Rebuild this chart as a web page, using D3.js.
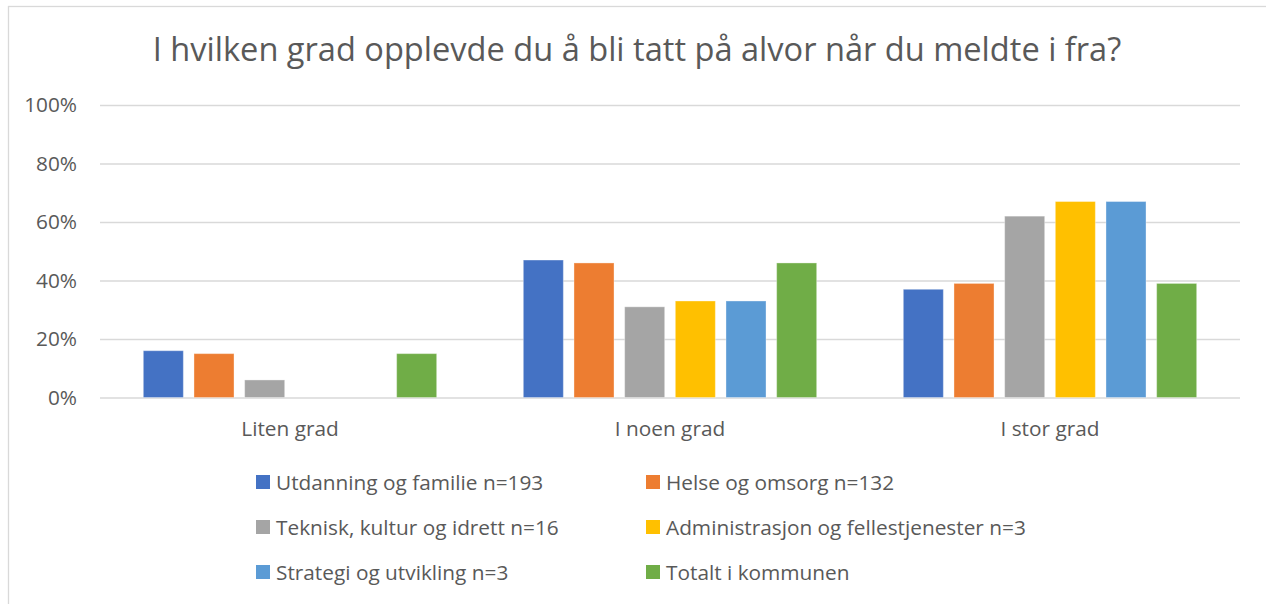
<!DOCTYPE html>
<html>
<head>
<meta charset="utf-8">
<script src="https://cdn.jsdelivr.net/npm/d3@7"></script>
<style>
  body { margin: 0; background: #fff; }
  svg text { font-family: "Open Sans", "Noto Sans", sans-serif; fill: #595959; }
</style>
</head>
<body>
<div id="chart"></div>
<script>
// DATA ------------------------------------------------------------------
const title = "I hvilken grad opplevde du å bli tatt på alvor når du meldte i fra?";
const categories = ["Liten grad", "I noen grad", "I stor grad"];
const seriesNames = [
    "Utdanning og familie n=193",
    "Helse og omsorg n=132",
    "Teknisk, kultur og idrett n=16",
    "Administrasjon og fellestjenester n=3",
    "Strategi og utvikling n=3",
    "Totalt i kommunen",
];
const utdanning = [0.16, 0.47, 0.37];
const helse = [0.15, 0.46, 0.39];
const teknisk = [0.06, 0.31, 0.62];
const administrasjon = [0, 0.33, 0.67];
const strategi = [0, 0.33, 0.67];
const totalt = [0.15, 0.46, 0.39];
const yTicks = [0, 0.2, 0.4, 0.6, 0.8, 1];
const colors = ["#4472c4", "#ed7d31", "#a5a5a5", "#ffc000", "#5b9bd5", "#70ad47"];

const seriesValues = [utdanning, helse, teknisk, administrasjon, strategi, totalt];

// SETTINGS --------------------------------------------------------------
const width = 1266, height = 604;
const plot = { left: 100, right: 1240, top: 105, bottom: 397.5 };
const labelSize = "20.8px";

const svg = d3.select("#chart")
    .append("svg")
    .attr("width", width)
    .attr("height", height);

// chart frame
svg.append("rect")
    .attr("x", 8.5).attr("y", 6.5)
    .attr("width", width).attr("height", height)
    .attr("fill", "none")
    .attr("stroke", "#d9d9d9")
    .attr("stroke-width", 1.3);

// SCALES ----------------------------------------------------------------
const y = d3.scaleLinear().domain([0, 1]).range([plot.bottom, plot.top]);
const x0 = d3.scaleBand().domain(categories).range([plot.left, plot.right]);
const x1 = d3.scaleBand()
    .domain(seriesNames)
    .range([0, x0.bandwidth()])
    .paddingInner(0.21)
    .paddingOuter(0.855);
const color = d3.scaleOrdinal().domain(seriesNames).range(colors);

// TITLE -----------------------------------------------------------------
svg.append("text")
    .attr("x", 637).attr("y", 61)
    .attr("text-anchor", "middle")
    .style("font-size", "32.6px")
    .text(title);

// GRID + Y AXIS ---------------------------------------------------------
const yAxis = svg.append("g")
    .attr("transform", `translate(${plot.left},0)`)
    .call(d3.axisLeft(y)
        .tickValues(yTicks)
        .tickFormat(d3.format(".0%"))
        .tickSize(-(plot.right - plot.left))
        .tickPadding(23));

yAxis.select(".domain").remove();
yAxis.selectAll(".tick line")
    .attr("stroke", "#d9d9d9")
    .attr("stroke-width", 1.3);
yAxis.selectAll(".tick text")
    .style("font-size", labelSize)
    .style("font-family", null);

// BARS ------------------------------------------------------------------
const barData = [];
seriesNames.forEach((s, i) => {
    categories.forEach((c, j) => {
        barData.push({ series: s, category: c, value: seriesValues[i][j] });
    });
});

svg.append("g")
    .selectAll("rect")
    .data(barData.filter(d => d.value > 0))
    .join("rect")
    .attr("x", d => x0(d.category) + x1(d.series))
    .attr("y", d => y(d.value))
    .attr("width", x1.bandwidth())
    .attr("height", d => y(0) - y(d.value))
    .attr("fill", d => color(d.series))
    .attr("stroke", "#ffffff")
    .attr("stroke-opacity", 0.35)
    .attr("stroke-width", 1);

// X LABELS --------------------------------------------------------------
svg.append("g")
    .selectAll("text")
    .data(categories)
    .join("text")
    .attr("x", d => x0(d) + x0.bandwidth() / 2)
    .attr("y", 436)
    .attr("text-anchor", "middle")
    .style("font-size", labelSize)
    .text(d => d);

// LEGEND ----------------------------------------------------------------
const legendCols = [256, 646];
const legendRowY = d3.scalePoint().domain([0, 1, 2]).range([482, 572]);

const legend = svg.append("g")
    .selectAll("g")
    .data(seriesNames)
    .join("g")
    .attr("transform", (d, i) => `translate(${legendCols[i % 2]},${legendRowY(Math.floor(i / 2))})`);

legend.append("rect")
    .attr("x", 0).attr("y", -7)
    .attr("width", 14).attr("height", 14)
    .attr("fill", d => color(d));

legend.append("text")
    .attr("x", 20).attr("y", 7.5)
    .style("font-size", labelSize)
    .text(d => d);
</script>
</body>
</html>
